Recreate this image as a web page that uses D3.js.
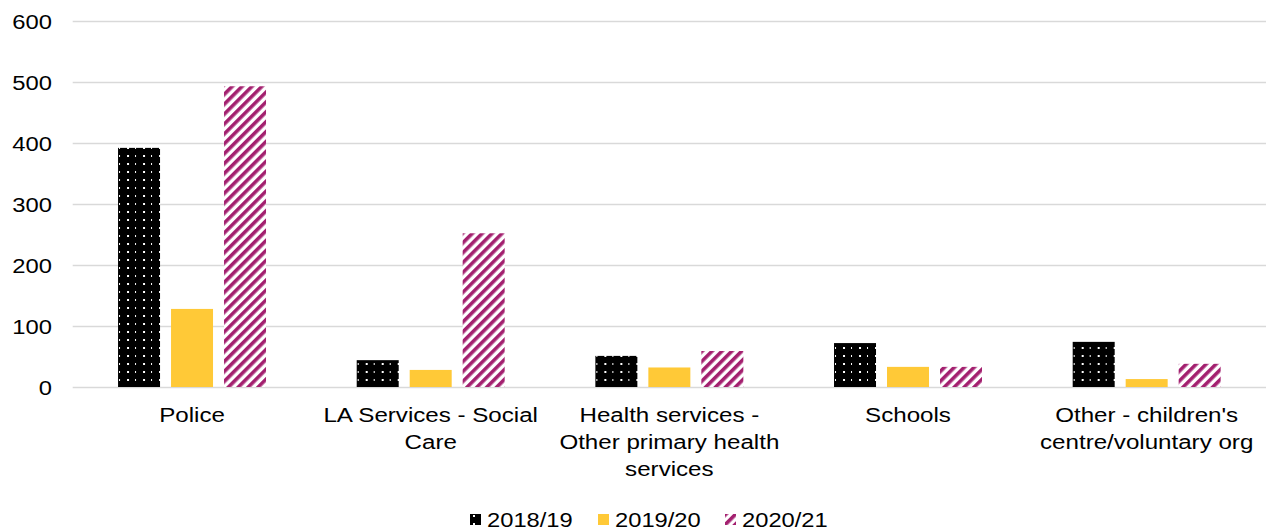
<!DOCTYPE html>
<html><head><meta charset="utf-8">
<script src="https://cdn.jsdelivr.net/npm/d3@7"></script>
<style>body{margin:0;background:#fff}svg{display:block}text{font-family:"Liberation Sans",Arial,sans-serif;fill:#000}</style>
</head><body><svg id="c" width="1266" height="532"></svg>
<script>
const categories = ["Police", "LA Services - Social Care", "Health services - Other primary health services", "Schools", "Other - children's centre/voluntary org"];
const categoryLines = [["Police"], ["LA Services - Social", "Care"], ["Health services -", "Other primary health", "services"], ["Schools"], ["Other - children's", "centre/voluntary org"]];
const seriesNames = ["2018/19", "2019/20", "2020/21"];
const values2018 = [392, 44, 51, 72, 74];
const values2019 = [128, 28, 32, 33, 13];
const values2020 = [493, 252, 59, 33, 38];
const yTicks = [0, 100, 200, 300, 400, 500, 600];

const series = [values2018, values2019, values2020];
const svg = d3.select("#c");
const defs = svg.append("defs");
const p1 = defs.append("pattern").attr("id","pBlack").attr("patternUnits","userSpaceOnUse").attr("width",16).attr("height",8);
p1.append("rect").attr("width",16).attr("height",8).attr("fill","#000");
p1.append("rect").attr("x",1).attr("y",3).attr("width",1).attr("height",2).attr("fill","#fff");
p1.append("rect").attr("x",9).attr("y",3).attr("width",2).attr("height",2).attr("fill","#fff");
const p3 = defs.append("pattern").attr("id","pStripe").attr("patternUnits","userSpaceOnUse").attr("width",7).attr("height",7).attr("patternTransform","rotate(45)");
p3.append("rect").attr("width",7).attr("height",7).attr("fill","#fff");
p3.append("rect").attr("width",3.6).attr("height",7).attr("fill","#A3206F");
const fills = ["url(#pBlack)", "#FFC937", "url(#pStripe)"];

const mLeft = 72.7, mRight = 1266, mTop = 21, mBottom = 387;
const x0 = d3.scaleBand().domain(categories).range([mLeft, mRight]).paddingInner(0.38).paddingOuter(0.19);
const x1 = d3.scaleBand().domain(seriesNames).range([0, x0.bandwidth()]).paddingInner(0.2075).paddingOuter(0);
const y = d3.scaleLinear().domain([0, 600]).range([mBottom, mTop]);

const yAxis = d3.axisLeft(y).tickValues(yTicks).tickSize(-(mRight-mLeft)).tickPadding(21);
const gy = svg.append("g").attr("transform",`translate(${mLeft},0)`).call(yAxis);
gy.select(".domain").remove();
gy.selectAll(".tick line").attr("stroke","#D9D9D9").attr("stroke-width",1.3);
gy.selectAll(".tick text").style("font-size","19.5px").attr("fill","#000").attr("dy","0.36em")
  .attr("x", 0).attr("transform", `translate(${52 - mLeft},0) scale(1.22,1)`);

categories.forEach((c, i) => {
  const g = svg.append("g").attr("transform",`translate(${x0(c)},0)`);
  seriesNames.forEach((s, j) => {
    g.append("rect").attr("x", x1(s)).attr("width", x1.bandwidth())
      .attr("y", y(series[j][i])).attr("height", y(0) - y(series[j][i]))
      .attr("fill", fills[j]);
  });
});

categories.forEach((c, i) => {
  const cx = x0(c) + x0.bandwidth()/2;
  const t = svg.append("text").attr("text-anchor","middle").style("font-size","21px")
    .attr("transform", `translate(${cx},0) scale(1.15,1)`);
  categoryLines[i].forEach((ln, k) => {
    t.append("tspan").attr("x", 0).attr("y", 422 + k*27).text(ln);
  });
});

const legendX = [470, 598, 725];
seriesNames.forEach((s, j) => {
  svg.append("rect").attr("x", legendX[j]).attr("y", 514).attr("width", 11).attr("height", 11).attr("fill", fills[j]);
  svg.append("text").attr("x", 0).attr("y", 527).style("font-size","21px")
    .attr("transform", `translate(${legendX[j] + 17},0) scale(1.13,1)`).text(s);
});
</script></body></html>
